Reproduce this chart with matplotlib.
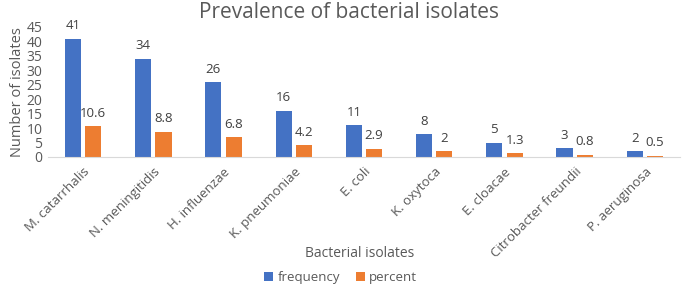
import matplotlib.pyplot as plt
import numpy as np

plt.rcParams['font.family'] = ['Open Sans', 'DejaVu Sans']

isolates = ['M. catarrhalis', 'N. meningitidis', 'H. influenzae', 'K. pneumoniae',
            'E. coli', 'K. oxytoca', 'E. cloacae', 'Citrobacter freundii', 'P. aeruginosa']
frequency = [41, 34, 26, 16, 11, 8, 5, 3, 2]
percent = [10.6, 8.8, 6.8, 4.2, 2.9, 2, 1.3, 0.8, 0.5]

grey = '#595959'
blue = '#4472c4'
orange = '#ed7d31'

fig = plt.figure(figsize=(6.85, 2.88), dpi=100)
ax = fig.add_axes([48/685, 1-157/288, 632/685, 130/288])

x = np.arange(len(isolates))
w = 0.23
b1 = ax.bar(x - 0.145, frequency, w, color=blue, label='frequency')
b2 = ax.bar(x + 0.145, percent, w, color=orange, label='percent')

for bars, vals in [(b1, frequency), (b2, percent)]:
    for r, v in zip(bars, vals):
        ax.text(r.get_x() + r.get_width()/2, v + 2.2, f'{v:g}', ha='center', va='bottom',
                fontsize=9.5, color='#404040')

ax.set_xlim(-0.5, len(isolates) - 0.5)
ax.set_ylim(0, 45)
ax.set_yticks(range(0, 46, 5))
ax.set_xticks(x)
ax.set_xticklabels(isolates, rotation=45, ha='right', rotation_mode='anchor', fontsize=9.5, color=grey)
ax.tick_params(axis='y', labelsize=10, labelcolor=grey, length=0, pad=4)
ax.tick_params(axis='x', length=0, pad=6)
for s in ['top', 'right', 'left']:
    ax.spines[s].set_visible(False)
ax.spines['bottom'].set_color('#d9d9d9')

ax.set_ylabel('Number of isolates', fontsize=10.5, color=grey, labelpad=1)
fig.text(0.525, 0.12, 'Bacterial isolates', ha='center', va='center', fontsize=10, color=grey)
fig.text(0.51, 0.955, 'Prevalence of bacterial isolates', ha='center', va='center', fontsize=15, color=grey)

fig.legend(handles=[b1, b2], loc='center', bbox_to_anchor=(0.497, 0.035), ncol=2, frameon=False,
           fontsize=9.5, labelcolor=grey, handlelength=0.7, handleheight=0.7, handletextpad=0.3,
           columnspacing=1.2)

fig.savefig('out.png', dpi=100)
